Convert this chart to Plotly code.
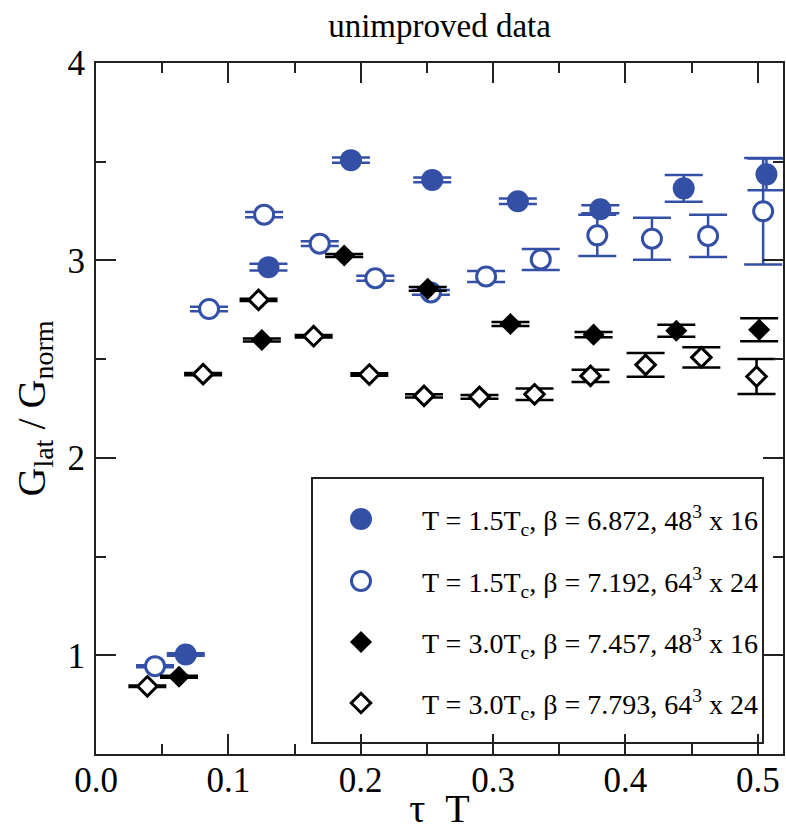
import plotly.graph_objects as go

# ---------------- data ----------------
# T = 1.5Tc, beta = 6.872, 48^3 x 16  (filled blue circles)
tau_a = [0.0678, 0.1303, 0.1926, 0.2540, 0.3187, 0.3810, 0.4440, 0.5065]
g_a   = [1.004, 2.966, 3.508, 3.408, 3.300, 3.259, 3.365, 3.436]
e_a   = [0.006, 0.017, 0.013, 0.012, 0.014, 0.020, 0.068, 0.080]

# T = 1.5Tc, beta = 7.192, 64^3 x 24  (open blue circles)
tau_b = [0.0446, 0.0854, 0.1270, 0.1690, 0.2110, 0.2530, 0.2947, 0.3360, 0.3787, 0.4200, 0.4624, 0.5040]
g_b   = [0.945, 2.754, 3.232, 3.085, 2.910, 2.838, 2.919, 3.005, 3.127, 3.110, 3.124, 3.249]
e_b   = [0.005, 0.012, 0.013, 0.012, 0.013, 0.012, 0.028, 0.053, 0.105, 0.106, 0.107, 0.270]

# T = 3.0Tc, beta = 7.457, 48^3 x 16  (filled black diamonds)
tau_c = [0.0627, 0.1253, 0.1875, 0.2506, 0.3131, 0.3759, 0.4384, 0.5010]
g_c   = [0.891, 2.597, 3.025, 2.856, 2.678, 2.624, 2.644, 2.649]
e_c   = [0.005, 0.008, 0.008, 0.010, 0.010, 0.013, 0.030, 0.058]

# T = 3.0Tc, beta = 7.793, 64^3 x 24  (open black diamonds)
tau_d = [0.0388, 0.0809, 0.1228, 0.1644, 0.2065, 0.2478, 0.2897, 0.3313, 0.3736, 0.4152, 0.4573, 0.4990]
g_d   = [0.843, 2.424, 2.800, 2.616, 2.422, 2.314, 2.309, 2.322, 2.415, 2.471, 2.509, 2.412]
e_d   = [0.004, 0.006, 0.006, 0.006, 0.006, 0.008, 0.010, 0.029, 0.031, 0.060, 0.051, 0.089]

labels = [
    "T = 1.5T<sub>c</sub>, β = 6.872, 48<sup>3</sup> x 16",
    "T = 1.5T<sub>c</sub>, β = 7.192, 64<sup>3</sup> x 24",
    "T = 3.0T<sub>c</sub>, β = 7.457, 48<sup>3</sup> x 16",
    "T = 3.0T<sub>c</sub>, β = 7.793, 64<sup>3</sup> x 24",
]

x_range = [0.0, 0.519]
y_range = [0.5, 4.0]

# ---------------- styling ----------------
BLUE = "#3450a6"
BLACK = "#000000"
FONT = "Liberation Serif"
W, H = 786, 831
ML, MR, MT, MB = 96, 3, 63, 77
PW, PH = W - ML - MR, H - MT - MB


def to_paper(px, py):
    return (px - ML) / PW, (H - MB - py) / PH


styles = [
    dict(symbol="circle", size=22, color=BLUE, line=dict(width=0, color=BLUE)),
    dict(symbol="circle", size=19, color="white", line=dict(width=3, color=BLUE)),
    dict(symbol="diamond", size=17, color=BLACK, line=dict(width=0, color=BLACK)),
    dict(symbol="diamond", size=15, color="white", line=dict(width=3, color=BLACK)),
]
err_colors = [BLUE, BLUE, BLACK, BLACK]
series = [(tau_a, g_a, e_a), (tau_b, g_b, e_b), (tau_c, g_c, e_c), (tau_d, g_d, e_d)]

fig = go.Figure()

for (xs, ys, es), st, ec, lab in zip(series, styles, err_colors, labels):
    fig.add_trace(go.Scatter(
        x=xs, y=ys, mode="markers", name=lab, showlegend=False,
        marker=st,
        error_y=dict(type="data", array=es, visible=True, width=19,
                     thickness=2.5, color=ec),
    ))

# ---------------- hand-made legend box ----------------
box_px = (312, 478, 763, 743)
marker_px_x = 361
text_px_x = 420
rows_px_y = [519, 581, 642, 703]

bx0, by0 = to_paper(box_px[0], box_px[3])
bx1, by1 = to_paper(box_px[2], box_px[1])
fig.add_shape(type="rect", xref="paper", yref="paper", x0=bx0, y0=by0, x1=bx1, y1=by1,
              line=dict(color="#222222", width=2), fillcolor="white", layer="below")

for st, lab, ry in zip(styles, labels, rows_px_y):
    mx, my = to_paper(marker_px_x, ry)
    fig.add_trace(go.Scatter(x=[mx], y=[my], xaxis="x2", yaxis="y2", mode="markers",
                             marker=st, showlegend=False, hoverinfo="skip"))
    tx, ty = to_paper(text_px_x, ry + 1)
    fig.add_annotation(xref="paper", yref="paper", x=tx, y=ty, text=lab,
                       showarrow=False, xanchor="left", yanchor="middle",
                       font=dict(family=FONT, size=28, color="black"))

axis_common = dict(
    showline=True, linewidth=2, linecolor="#222222", mirror="ticks",
    ticks="inside", ticklen=20, tickwidth=2, tickcolor="#222222",
    showgrid=False, zeroline=False, automargin=False,
    tickfont=dict(family=FONT, size=35, color="black"),
)

fig.update_layout(
    width=W, height=H,
    margin=dict(l=ML, r=MR, t=MT, b=MB, autoexpand=False),
    paper_bgcolor="white", plot_bgcolor="white",
    font=dict(family=FONT, color="black"),
    title=dict(text="unimproved data", x=(ML + PW / 2) / W, xanchor="center",
               y=1 - 25 / H, yanchor="middle", yref="container",
               font=dict(family=FONT, size=33, color="black")),
    xaxis=dict(range=x_range, tick0=0, dtick=0.1, tickformat=".1f",
               minor=dict(dtick=0.05, ticklen=10, tickwidth=2, ticks="inside", tickcolor="#222222"),
               ticklabelstandoff=-6,
               title=dict(text="τ\u2002T", font=dict(family=FONT, size=40), standoff=21),
               **axis_common),
    yaxis=dict(range=y_range, tick0=0, dtick=1,
               minor=dict(dtick=0.5, ticklen=10, tickwidth=2, ticks="inside", tickcolor="#222222"),
               ticklabelstandoff=2,
               title=dict(text="G<sub>lat</sub> / G<sub>norm</sub>", font=dict(family=FONT, size=40), standoff=10),
               **axis_common),
    xaxis2=dict(overlaying="x", range=[0, 1], visible=False, fixedrange=True),
    yaxis2=dict(overlaying="y", range=[0, 1], visible=False, fixedrange=True),
)

fig.write_html("out.html",
               config={"displayModeBar": False},
               post_script="document.body.style.margin='0';document.body.style.padding='0';")
